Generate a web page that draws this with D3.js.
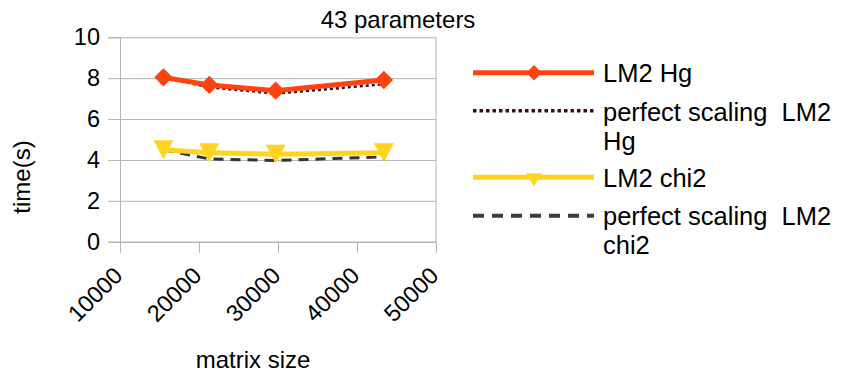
<!DOCTYPE html>
<html><head><meta charset="utf-8">
<script src="https://cdn.jsdelivr.net/npm/d3@7"></script>
<style>
html,body{margin:0;padding:0;background:#fff;}
text{font-family:"Liberation Sans",Arial,sans-serif;fill:#000;}
</style></head>
<body><svg id="c" width="842" height="373"></svg>
<script>
const matrixSize = [15500, 21300, 29700, 43400];
const lm2Hg = [8.04, 7.67, 7.39, 7.91];
const perfectHg = [8.04, 7.55, 7.25, 7.70];
const lm2Chi2 = [4.50, 4.35, 4.28, 4.35];
const perfectChi2 = [4.50, 4.05, 3.97, 4.15];
const xTicks = [10000, 20000, 30000, 40000, 50000];
const yTicks = [0, 2, 4, 6, 8, 10];
const legendLabels = [["LM2 Hg"], ["perfect scaling  LM2", "Hg"], ["LM2 chi2"], ["perfect scaling  LM2", "chi2"]];

const svg = d3.select("#c");
const L = 120, R = 436, T = 37.3, B = 241.7;
const x = d3.scaleLinear().domain([10000, 50000]).range([L, R]);
const y = d3.scaleLinear().domain([0, 10]).range([B, T]);
const grid = "#b3b3b3";

// gridlines
svg.append("g").attr("transform", `translate(${L},0)`)
  .call(d3.axisLeft(y).tickValues(yTicks).tickSize(-(R - L)).tickFormat(""))
  .call(g => { g.select(".domain").remove(); g.selectAll("line").attr("stroke", grid); });
// y ticks
svg.append("g").attr("transform", `translate(${L},0)`)
  .call(d3.axisLeft(y).tickValues(yTicks).tickSize(12).tickPadding(8))
  .call(g => { g.select(".domain").attr("stroke", grid);
    g.selectAll("line").attr("stroke", grid);
    g.selectAll("text").attr("font-size", "23.5px").attr("font-family", "Liberation Sans, Arial, sans-serif").attr("fill", "#000"); });
// right border
svg.append("line").attr("x1", R).attr("x2", R).attr("y1", T).attr("y2", B).attr("stroke", grid);
// x ticks
svg.append("g").attr("transform", `translate(0,${B})`)
  .call(d3.axisBottom(x).tickValues(xTicks).tickSize(11).tickFormat(""))
  .call(g => { g.select(".domain").attr("stroke", grid); g.selectAll("line").attr("stroke", grid); });
svg.append("g").selectAll("text").data(xTicks).join("text")
  .attr("transform", d => `translate(${x(d) + 4},277) rotate(-45)`)
  .attr("text-anchor", "end").attr("font-size", "23.5px").text(d => d);

// axis titles
svg.append("text").attr("x", 398).attr("y", 28).attr("text-anchor", "middle").attr("font-size", "24px").text("43 parameters");
svg.append("text").attr("x", 253).attr("y", 368).attr("text-anchor", "middle").attr("font-size", "24px").text("matrix size");
svg.append("text").attr("transform", "translate(30,177) rotate(-90)").attr("text-anchor", "middle").attr("font-size", "24px").text("time(s)");

const line = d3.line().x((d, i) => x(matrixSize[i])).y(d => y(d));
const diamond = d3.symbol().type(d3.symbolDiamond2).size(190);
const tri = "M-10,-9.5L10,-9.5L0,9.5Z";

svg.append("path").datum(perfectChi2).attr("d", line).attr("fill", "none").attr("stroke", "#333333").attr("stroke-width", 3).attr("stroke-dasharray", "10,7");
svg.append("path").datum(lm2Chi2).attr("d", line).attr("fill", "none").attr("stroke", "#ffd320").attr("stroke-width", 5);
svg.append("g").selectAll("path").data(lm2Chi2).join("path")
  .attr("transform", (d, i) => `translate(${x(matrixSize[i])},${y(d)})`).attr("d", tri).attr("fill", "#ffd320");
svg.append("path").datum(perfectHg).attr("d", line).attr("fill", "none").attr("stroke", "#350d1f").attr("stroke-width", 2.5).attr("stroke-dasharray", "3,3");
svg.append("path").datum(lm2Hg).attr("d", line).attr("fill", "none").attr("stroke", "#ff420e").attr("stroke-width", 5);
svg.append("g").selectAll("path").data(lm2Hg).join("path")
  .attr("transform", (d, i) => `translate(${x(matrixSize[i])},${y(d)}) rotate(45) scale(1)`)
  .attr("d", "M-6.5,-6.5L6.5,-6.5L6.5,6.5L-6.5,6.5Z").attr("fill", "#ff420e");

// legend
const lx1 = 473, lx2 = 594, tx = 603;
const lg = svg.append("g");
lg.append("line").attr("x1", lx1).attr("x2", lx2).attr("y1", 72.7).attr("y2", 72.7).attr("stroke", "#ff420e").attr("stroke-width", 5);
lg.append("path").attr("transform", "translate(534,72.7) rotate(45)").attr("d", "M-5.5,-5.5L5.5,-5.5L5.5,5.5L-5.5,5.5Z").attr("fill", "#ff420e");
lg.append("line").attr("x1", lx1).attr("x2", lx2).attr("y1", 110.7).attr("y2", 110.7).attr("stroke", "#350d1f").attr("stroke-width", 3.5).attr("stroke-dasharray", "3.5,3");
lg.append("line").attr("x1", lx1).attr("x2", lx2).attr("y1", 177.3).attr("y2", 177.3).attr("stroke", "#ffd320").attr("stroke-width", 5);
lg.append("path").attr("transform", "translate(534,177.3)").attr("d", "M-8,-4L8,-4L0,9Z").attr("fill", "#ffd320");
lg.append("line").attr("x1", lx1).attr("x2", lx2).attr("y1", 215.7).attr("y2", 215.7).attr("stroke", "#3c3c3c").attr("stroke-width", 4).attr("stroke-dasharray", "11,8");
const baselines = [[81.7], [121, 150], [186.7], [225, 254]];
legendLabels.forEach((lines, i) => {
  lines.forEach((t, j) => {
    lg.append("text").attr("x", tx).attr("y", baselines[i][j]).attr("font-size", "25.5px").style("white-space", "pre").text(t);
  });
});
</script></body></html>
